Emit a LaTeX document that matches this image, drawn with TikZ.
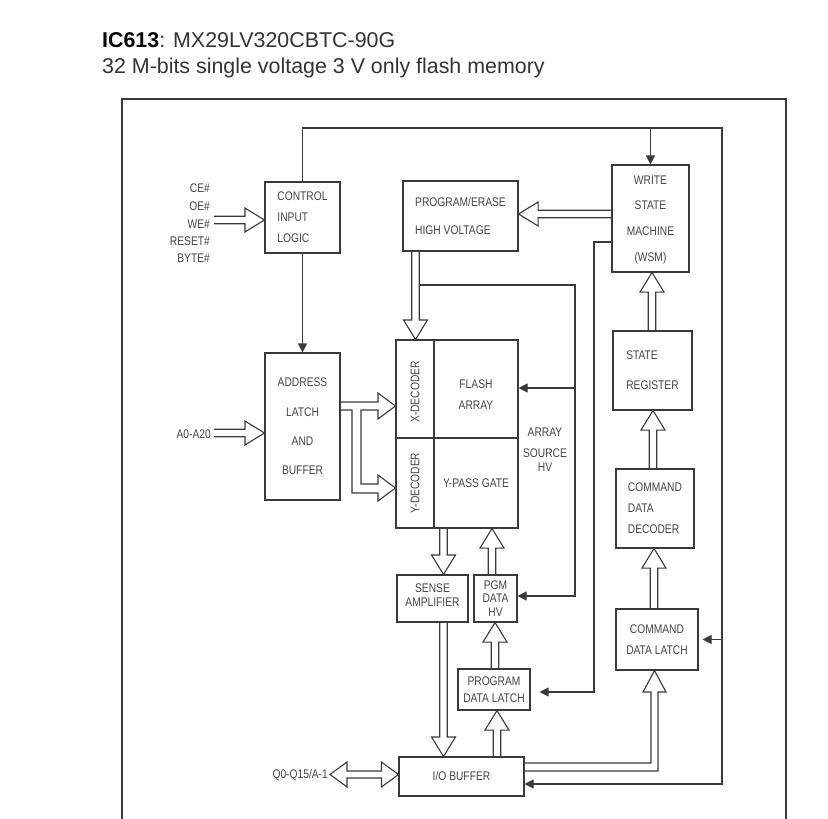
\documentclass[tikz,border=0pt]{standalone}
\usepackage{fontspec}
\setmainfont{Liberation Sans}[FakeStretch=0.82]
\newfontfamily\titlefont{Liberation Sans}
\usetikzlibrary{calc,arrows.meta}
\definecolor{ln}{HTML}{3A3A3A}
\definecolor{tx}{HTML}{444444}
\definecolor{ttl}{HTML}{333333}
\newcommand{\lblsk}[1]{\fontsize{12.5}{#1}\selectfont}
\def\SW{3.75}
\def\HW{12}
\def\HL{19.5}
\newcommand{\blockarrow}[2]{%
  \draw[blk] let \p1=#1, \p2=#2,
    \n1={veclen(\x2-\x1,\y2-\y1)},
    \n2={(\x2-\x1)/\n1}, \n3={(\y2-\y1)/\n1},
    \n4={\n1-\HL} in
    ({\x1-\n3*\SW},{\y1+\n2*\SW}) --
    ({\x1+\n4*\n2-\n3*\SW},{\y1+\n4*\n3+\n2*\SW}) --
    ({\x1+\n4*\n2-\n3*\HW},{\y1+\n4*\n3+\n2*\HW}) --
    (\x2,\y2) --
    ({\x1+\n4*\n2+\n3*\HW},{\y1+\n4*\n3-\n2*\HW}) --
    ({\x1+\n4*\n2+\n3*\SW},{\y1+\n4*\n3-\n2*\SW}) --
    ({\x1+\n3*\SW},{\y1-\n2*\SW});
}
\tikzset{
  box/.style={draw=ln, line width=1.1pt, inner sep=0pt, text=tx},
  wire/.style={draw=ln, line width=1.1pt},
  arr/.style={-{Triangle[length=9pt,width=9pt]}},
  blk/.style={draw=ln, line width=1.1pt, line join=miter},
  lab/.style={text=tx, font=\lblsk{15}, inner sep=0pt},
  frame/.style={draw=ln, line width=2.2pt}
}
\begin{document}
\begin{tikzpicture}[x=1pt,y=-1pt]
\useasboundingbox (0,0) rectangle (828,819);

% title
\node[anchor=base west, inner sep=0pt, text=ttl, font=\titlefont\fontsize{21.4}{26}\selectfont] (t1) at (102,47) {\textcolor{black}{\textbf{IC613}}: MX29LV320CBTC-90G};
\node[anchor=base west, inner sep=0pt, text=ttl, font=\titlefont\fontsize{21.4}{26}\selectfont] (t2) at (102,73) {32 M-bits single voltage 3 V only flash memory};

% frame
\draw[frame] (122,819) -- (122,99) -- (786,99) -- (786,819);

% boxes
\node[box, minimum width=75pt, minimum height=71pt, align=left, font=\lblsk{21}] (cil) at (302.5,217.5) {CONTROL\\INPUT\\LOGIC};
\node[box, minimum width=75pt, minimum height=147pt, align=center, font=\lblsk{29.3}] (alb) at (302.5,426.5) {ADDRESS\\LATCH\\AND\\BUFFER};
\node[box, minimum width=115pt, minimum height=70pt, align=left, font=\lblsk{28}] (pe) at (460.5,216) {PROGRAM/ERASE\\HIGH VOLTAGE};
\node[box, minimum width=77pt, minimum height=107pt, align=center, font=\lblsk{25.7}] (wsm) at (650.5,218.5) {WRITE\\STATE\\MACHINE\\\raisebox{0pt}[9pt][0pt]{(WSM)}};
\node[box, minimum width=79pt, minimum height=79pt, align=left, font=\lblsk{30}] (sr) at (652.5,370.5) {STATE\\REGISTER};
\node[box, minimum width=78pt, minimum height=79pt, align=left, font=\lblsk{21}] (cdd) at (655,508.5) {COMMAND\\DATA\\DECODER};
\node[box, minimum width=82pt, minimum height=61pt, align=center, font=\lblsk{21}] (cdl) at (657,639.5) {COMMAND\\DATA LATCH};
\node[box, rotate=90, minimum width=98pt, minimum height=38pt, font=\lblsk{15}] (xdec) at (415,389) {\raisebox{0pt}[9pt][0pt]{\hspace*{0pt}}X-DECODER\hspace*{6pt}};
\node[box, minimum width=84pt, minimum height=98pt, align=center, font=\lblsk{21}] (fa) at (476,389) {\raisebox{-5.5pt}[9pt][0pt]{FLASH}\\\raisebox{-5.5pt}[9pt][0pt]{ARRAY}};
\node[box, rotate=90, minimum width=90pt, minimum height=38pt, font=\lblsk{15}] (ydec) at (415,483) {Y-DECODER};
\node[box, minimum width=84pt, minimum height=90pt, font=\lblsk{15}] (ypg) at (476,483) {Y-PASS GATE};
\node[box, minimum width=71pt, minimum height=47pt, align=center, font=\lblsk{14}] (sa) at (432.5,598.5) {\raisebox{4pt}[9pt][0pt]{SENSE}\\\raisebox{4pt}[9pt][0pt]{AMPLIFIER}};
\node[box, minimum width=43pt, minimum height=47pt, align=center, font=\lblsk{13.5}] (pgm) at (495.5,598.5) {PGM\\DATA\\HV};
\node[box, minimum width=72pt, minimum height=41pt, align=center, font=\lblsk{17}] (pdl) at (494,689.5) {PROGRAM\\DATA LATCH};
\node[box, minimum width=125pt, minimum height=39pt, font=\lblsk{15}] (io) at (461.5,776.5) {I/O BUFFER};

% pin labels
\node[lab, anchor=east] (ce) at (210,188) {CE\#};
\node[lab, anchor=east] (oe) at (210,206) {OE\#};
\node[lab, anchor=east] (we) at (210,224) {WE\#};
\node[lab, anchor=east] (rs) at (210,241) {RESET\#};
\node[lab, anchor=east] (by) at (210,258) {BYTE\#};
\node[lab, anchor=east] (addr) at (211,434) {A0-A20};
\node[lab, anchor=east] (dq) at (328,775) {Q0-Q15/A-1};
\node[lab, align=center, font=\lblsk{14}] (ash) at (545,449.5) {ARRAY\\[7.5pt]SOURCE\\HV};

% free ends
\coordinate (ctlin) at (214,220);
\coordinate (ain) at (214,433);
\coordinate (qtip) at (330,774.5);
\coordinate (tr) at (722,128);
\coordinate (wl) at (594,242);
\coordinate (asb) at (419.25,285);
\coordinate (asc) at (575,285);

% block arrows
\blockarrow{(ctlin)}{(cil.west |- ctlin)}
\blockarrow{(ain)}{(alb.west |- ain)}
\blockarrow{(pe.south -| 415.5,0)}{(xdec.east -| 415.5,0)}
\blockarrow{(wsm.west |- 0,214)}{(pe.east |- 0,214)}
\blockarrow{(ypg.south -| 443.5,0)}{(sa.north -| 443.5,0)}
\blockarrow{(pgm.north -| 492,0)}{(ypg.south -| 492,0)}
\blockarrow{(pdl.north -| 495,0)}{(pgm.south -| 495,0)}
\blockarrow{(sa.south -| 443.5,0)}{(io.north -| 443.5,0)}
\blockarrow{(io.north -| 497,0)}{(pdl.south -| 497,0)}
\blockarrow{(cdl.north -| 654,0)}{(cdd.south -| 654,0)}
\blockarrow{(cdd.north -| 653,0)}{(sr.south -| 653,0)}
\blockarrow{(sr.north -| 652,0)}{(wsm.south -| 652,0)}

% double-headed I/O arrow
\draw[blk] let \p1=(qtip), \p2=(io.west |- qtip) in
  (\p1) -- ({\x1+17},{\y1+12.5}) -- ({\x1+17},{\y1+3.5}) -- ({\x2-17},{\y1+3.5})
  -- ({\x2-17},{\y1+12.5}) -- (\p2) -- ({\x2-17},{\y1-12.5}) -- ({\x2-17},{\y1-3.5})
  -- ({\x1+17},{\y1-3.5}) -- ({\x1+17},{\y1-12.5}) -- cycle;

% branching address arrow to X- and Y-decoder
\draw[blk] (alb.east |- 0,402) -- (378,402) -- (378,393) -- (xdec.north |- 0,406)
  -- (378,419) -- (378,410) -- (361,410) -- (361,484) -- (378,484) -- (378,475)
  -- (ydec.north |- 0,488) -- (378,501) -- (378,493) -- (352,493) -- (352,410)
  -- (alb.east |- 0,410);

% bent arrow I/O buffer -> command data latch
\draw[blk] (io.east |- 0,763) -- (651,763) -- (651,692) -- (643,692)
  -- (cdl.south -| 654.5,0) -- (666,692) -- (658,692) -- (658,771) -- (io.east |- 0,771);

% wires
\draw[wire, arr] (cil.north) |- (tr) |- (io.east |- 0,784);
\draw[wire, arr] (wsm.north |- tr) -- (wsm.north);
\draw[wire, arr, shorten >=4pt] (tr |- cdl.east) -- (cdl.east);
\draw[wire, arr] (cil.south) -- (alb.north);
\draw[wire, arr, shorten >=9pt] (wsm.west |- wl) -- (wl) -- (wl |- 0,692) -- (pdl.east |- 0,692);
\draw[wire, arr] (asb) -- (asc) -- (asc |- 0,596) -- (pgm.east |- 0,596);
\draw[wire, arr] (asc |- 0,388) -- (fa.east |- 0,388);
\end{tikzpicture}
\end{document}
